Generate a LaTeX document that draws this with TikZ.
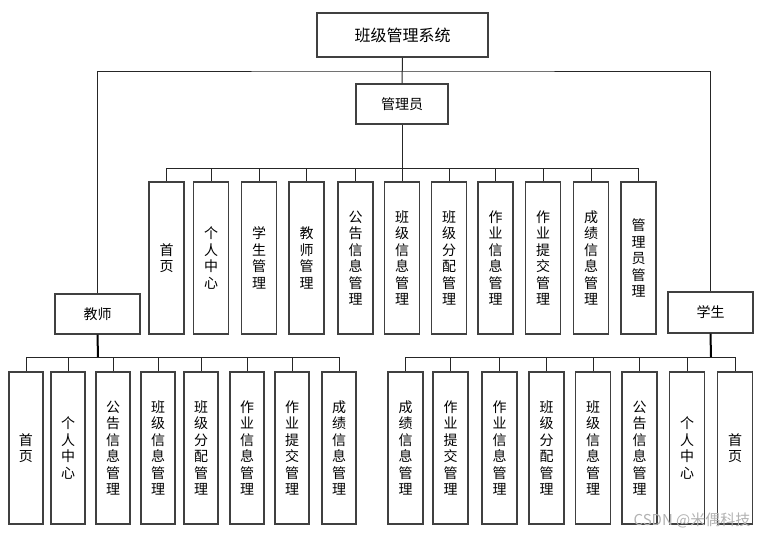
\documentclass[tikz,border=0pt]{standalone}
\usepackage{fontspec}
\newfontfamily\cjk{Noto Sans CJK SC}
\tikzset{
  rolebox/.style={draw=black!75, line width=1.3pt, inner sep=0pt, fill=white},
  modbox/.style={draw=black!75, line width=1.3pt, inner sep=0pt, align=center,
    minimum width=35pt, minimum height=152pt},
  link/.style={draw=black!85, line width=1pt},
  trunk/.style={draw=black, line width=2pt}
}
\begin{document}
\begin{tikzpicture}[x=1pt, y=-1pt, every node/.style={font=\cjk\fontsize{14}{16.5}\selectfont}]
  \useasboundingbox (0,0) rectangle (777,538);
  % system and the three roles
  \node[rolebox, minimum width=171pt, minimum height=44pt, font=\cjk\fontsize{16}{18}\selectfont] (sys) at (402.5,35) {班级管理系统};
  \node[rolebox, minimum width=92pt, minimum height=40pt] (adm) at (402,104) {管理员};
  \node[rolebox, minimum width=85pt, minimum height=40pt] (tea) at (97.5,314) {教师};
  \node[rolebox, minimum width=85pt, minimum height=41pt] (stu) at (710.5,312.5) {学生};
  % where the branches split
  \coordinate (sys-bus) at (402,71);
  \coordinate (adm-bus) at (402,168);
  \coordinate (tea-bus) at (98,357);
  \coordinate (stu-bus) at (711,357);
  % modules of the administrator
  \foreach \idx/\cx/\lbl in {1/166.5/首\\页, 2/211/个\\人\\中\\心, 3/259/学\\生\\管\\理,
      4/306.5/教\\师\\管\\理, 5/355.5/公\\告\\信\\息\\管\\理, 6/402/班\\级\\信\\息\\管\\理,
      7/449/班\\级\\分\\配\\管\\理, 8/495.5/作\\业\\信\\息\\管\\理, 9/543/作\\业\\提\\交\\管\\理,
      10/591/成\\绩\\信\\息\\管\\理, 11/638.5/管\\理\\员\\管\\理}
    \node[modbox] (a-\idx) at (\cx,258) {\lbl};
  % modules of the teacher
  \foreach \idx/\cx/\lbl in {1/26/首\\页, 2/68/个\\人\\中\\心, 3/113/公\\告\\信\\息\\管\\理,
      4/158/班\\级\\信\\息\\管\\理, 5/201/班\\级\\分\\配\\管\\理, 6/247/作\\业\\信\\息\\管\\理,
      7/292/作\\业\\提\\交\\管\\理, 8/339/成\\绩\\信\\息\\管\\理}
    \node[modbox, minimum width=34pt] (t-\idx) at (\cx,448) {\lbl};
  % modules of the student
  \foreach \idx/\cx/\lbl in {1/405.5/成\\绩\\信\\息\\管\\理, 2/450.5/作\\业\\提\\交\\管\\理,
      3/499.5/作\\业\\信\\息\\管\\理, 4/546.5/班\\级\\分\\配\\管\\理, 5/593/班\\级\\信\\息\\管\\理,
      6/639.5/公\\告\\信\\息\\管\\理, 7/687/个\\人\\中\\心, 8/735/首\\页}
    \node[modbox] (s-\idx) at (\cx,448) {\lbl};
  % connectors
  \draw[link] (sys.south) -- (adm.north);
  \draw[link] (tea.north) |- (sys-bus) -| (stu.north);
  \draw[link] (adm.south) -- (adm-bus);
  \draw[link] (a-1.north |- adm-bus) -- (a-11.north |- adm-bus);
  \foreach \idx in {1,...,11}
    \draw[link] (a-\idx.north |- adm-bus) -- (a-\idx.north);
  \draw[trunk] (tea.south) -- (tea-bus);
  \draw[link] (t-1.north |- tea-bus) -- (t-8.north |- tea-bus);
  \foreach \idx in {1,...,8}
    \draw[link] (t-\idx.north |- tea-bus) -- (t-\idx.north);
  \draw[trunk] (stu.south) -- (stu-bus);
  \draw[link] (s-1.north |- stu-bus) -- (s-8.north |- stu-bus);
  \foreach \idx in {1,...,8}
    \draw[link] (s-\idx.north |- stu-bus) -- (s-\idx.north);
  % watermark
  \node[text=black!30, font=\cjk\fontsize{15}{15}\selectfont] (mark) at (692,520) {CSDN @米偶科技};
\end{tikzpicture}
\end{document}
